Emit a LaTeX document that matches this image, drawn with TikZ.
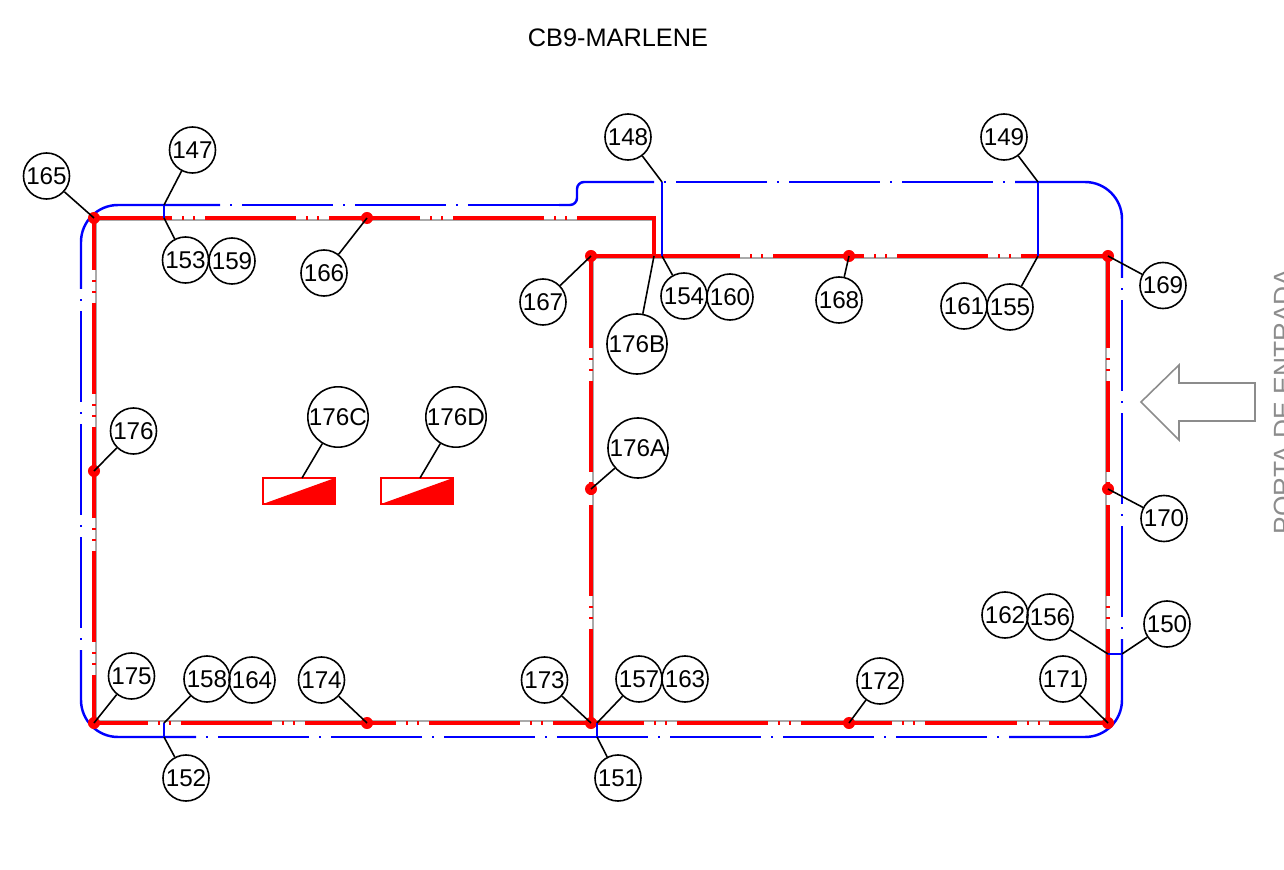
\documentclass[tikz,border=0pt]{standalone}
\usepackage{fontspec}
\setmainfont{Liberation Sans}
\usepackage{xcolor}
\definecolor{wallred}{RGB}{255,0,0}
\definecolor{wallgray}{RGB}{170,170,170}
\definecolor{fenceblue}{RGB}{0,0,255}
\definecolor{arrowgray}{RGB}{140,140,140}
\tikzset{
    tag/.style={draw, circle, line width=0.45pt, minimum size=0.46cm, inner sep=0pt, font=\fontsize{6.9}{8}\selectfont},
    bigtag/.style={tag, minimum size=0.6cm},
    joint/.style={circle, fill=wallred, minimum size=0.12cm, inner sep=0pt},
    leader/.style={line width=0.45pt},
    wallsolid/.style={draw=wallred, line width=0.9pt, line join=miter},
    walldash/.style={wallsolid, dash pattern=on 0cm off 0.1cm on 0.02cm off 0.09cm on 0.02cm off 0.1cm on 0.91cm off 0cm},
    wallback/.style={draw=wallgray, line width=0.5pt},
    fencesolid/.style={draw=fenceblue, line width=0.7pt},
    fencedash/.style={fencesolid, dash pattern=on 0cm off 0.1cm on 0.02cm off 0.1cm on 0.91cm off 0cm},
}
\begin{document}
\begin{tikzpicture}[x=0.01cm, y=-0.01cm]
    \clip (0,0) rectangle (1284,870);

    % Title
    \node[font=\fontsize{7.2}{9}\selectfont] (title) at (618,38) {CB9-MARLENE};

    % Wall underlay
    \draw[wallback] (96,220) -- (654,220);
    \draw[wallback] (592,258) -- (1107,258);
    \draw[wallback] (96,218) -- (96,722);
    \draw[wallback] (593,257) -- (593,722);
    \draw[wallback] (1106,257) -- (1106,722);
    \draw[wallback] (94,721) -- (1108,721);

    % Walls
    \draw[wallsolid] (94,218) -- (172,218);
    \draw[walldash] (172,218) -- (577,218);
    \draw[wallsolid] (577,218) -- (654,218) -- (654,256);
    \draw[wallsolid] (591,256) -- (740,256);
    \draw[walldash] (740,256) -- (1021,256);
    \draw[wallsolid] (1021,256) -- (1108,256);
    \draw[wallsolid] (1108,256) -- (1108,348);
    \draw[walldash] (1108,348) -- (1108,629);
    \draw[wallsolid] (1108,629) -- (1108,723);
    \draw[wallsolid] (591,256) -- (591,348);
    \draw[walldash] (591,348) -- (591,629);
    \draw[wallsolid] (591,629) -- (591,723);
    \draw[wallsolid] (94,723) -- (148,723);
    \draw[walldash] (148,723) -- (1049,723);
    \draw[wallsolid] (1049,723) -- (1108,723);
    \draw[wallsolid] (94,723) -- (94,675);
    \draw[walldash] (94,675) -- (94,270);
    \draw[wallsolid] (94,270) -- (94,218);

    % Fence
    \draw[fencesolid, rounded corners=0.37cm] (81,289) -- (81,205) -- (220,205);
    \draw[fencedash] (220,205) -- (559,205);
    \draw[fencesolid, rounded corners=0.07cm] (559,205) -- (577,205) -- (577,182) -- (654,182);
    \draw[fencedash] (654,182) -- (1015,182);
    \draw[fencesolid, rounded corners=0.37cm] (1015,182) -- (1122,182) -- (1122,278);
    \draw[fencedash] (1122,278) -- (1122,639);
    \draw[fencesolid, rounded corners=0.37cm] (1122,639) -- (1122,737) -- (1009,737);
    \draw[fencedash] (1009,737) -- (196,737);
    \draw[fencesolid, rounded corners=0.37cm] (196,737) -- (81,737) -- (81,650);
    \draw[fencedash] (81,650) -- (81,289);

    % Wall joints
    \node[joint] (J165) at (94,218) {};
    \node[joint] (J166) at (367,218) {};
    \node[joint] (J167) at (591,256) {};
    \node[joint] (J168) at (849,256) {};
    \node[joint] (J169) at (1108,256) {};
    \node[joint] (J170) at (1108,489) {};
    \node[joint] (J171) at (1108,723) {};
    \node[joint] (J172) at (849,723) {};
    \node[joint] (J173) at (591,723) {};
    \node[joint] (J174) at (367,723) {};
    \node[joint] (J175) at (94,723) {};
    \node[joint] (J176) at (94,471) {};
    \node[joint] (J176A) at (591,489) {};

    % Free leader ends
    \coordinate (C147) at (164,205);
    \coordinate (C153) at (164,218);
    \coordinate (C148) at (662,182);
    \coordinate (C154) at (662,256);
    \coordinate (C149) at (1038,182);
    \coordinate (C155) at (1038,256);
    \coordinate (C150) at (1122,654);
    \coordinate (C156) at (1108,654);
    \coordinate (C151) at (597,737);
    \coordinate (C157) at (597,723);
    \coordinate (C152) at (164,737);
    \coordinate (C158) at (164,723);
    \coordinate (C176B) at (654,256);
    \coordinate (C176C) at (302,478);
    \coordinate (C176D) at (420,478);

    % Fence links
    \draw[fencesolid] (C147) -- (C153);
    \draw[fencesolid] (C148) -- (C154);
    \draw[fencesolid] (C149) -- (C155);
    \draw[fencesolid] (C150) -- (C156);
    \draw[fencesolid] (C151) -- (C157);
    \draw[fencesolid] (C152) -- (C158);

    % Panels
    \draw[wallsolid, line width=0.5pt] (263,478) rectangle (335,504);
    \fill[wallred] (263,504) -- (335,478) -- (335,504) -- cycle;
    \draw[wallsolid, line width=0.5pt] (381,478) rectangle (453,504);
    \fill[wallred] (381,504) -- (453,478) -- (453,504) -- cycle;

    % Tags
    \node[tag] (T147) at (192.5,150) {147};
    \node[tag] (T148) at (628,137) {148};
    \node[tag] (T149) at (1004,137) {149};
    \node[tag] (T150) at (1167,624) {150};
    \node[tag] (T151) at (618,778) {151};
    \node[tag] (T152) at (186,778) {152};
    \node[tag] (T153) at (185.5,260) {153};
    \node[tag] (T154) at (684,296) {154};
    \node[tag] (T155) at (1010,307) {155};
    \node[tag] (T156) at (1050,617) {156};
    \node[tag] (T157) at (639,679) {157};
    \node[tag] (T158) at (207,679) {158};
    \node[tag] (T159) at (232,261) {159};
    \node[tag] (T160) at (730,297) {160};
    \node[tag] (T161) at (964,306) {161};
    \node[tag] (T162) at (1005,615) {162};
    \node[tag] (T163) at (685,679) {163};
    \node[tag] (T164) at (252,680) {164};
    \node[tag] (T165) at (46.5,176) {165};
    \node[tag] (T166) at (324,273) {166};
    \node[tag] (T167) at (543,302) {167};
    \node[tag] (T168) at (839,300) {168};
    \node[tag] (T169) at (1163,285.5) {169};
    \node[tag] (T170) at (1164,518.5) {170};
    \node[tag] (T171) at (1063,679) {171};
    \node[tag] (T172) at (880,681) {172};
    \node[tag] (T173) at (544.5,680) {173};
    \node[tag] (T174) at (321.5,680) {174};
    \node[tag] (T175) at (131.5,676) {175};
    \node[tag] (T176) at (133.5,431) {176};
    \node[bigtag] (T176A) at (638,448) {176A};
    \node[bigtag] (T176B) at (637,344) {176B};
    \node[bigtag] (T176C) at (338,417) {176C};
    \node[bigtag] (T176D) at (456,417) {176D};

    % Leaders
    \draw[leader] (T147) -- (C147);
    \draw[leader] (T148) -- (C148);
    \draw[leader] (T149) -- (C149);
    \draw[leader] (T150) -- (C150);
    \draw[leader] (T151) -- (C151);
    \draw[leader] (T152) -- (C152);
    \draw[leader] (T153) -- (C153);
    \draw[leader] (T154) -- (C154);
    \draw[leader] (T155) -- (C155);
    \draw[leader] (T156) -- (C156);
    \draw[leader] (T157) -- (C157);
    \draw[leader] (T158) -- (C158);
    \draw[leader] (T165) -- (J165.center);
    \draw[leader] (T166) -- (J166.center);
    \draw[leader] (T167) -- (J167.center);
    \draw[leader] (T168) -- (J168.center);
    \draw[leader] (T169) -- (J169.center);
    \draw[leader] (T170) -- (J170.center);
    \draw[leader] (T171) -- (J171.center);
    \draw[leader] (T172) -- (J172.center);
    \draw[leader] (T173) -- (J173.center);
    \draw[leader] (T174) -- (J174.center);
    \draw[leader] (T175) -- (J175.center);
    \draw[leader] (T176) -- (J176.center);
    \draw[leader] (T176A) -- (J176A.center);
    \draw[leader] (T176B) -- (C176B);
    \draw[leader] (T176C) -- (C176C);
    \draw[leader] (T176D) -- (C176D);

    % Entrance arrow
    \draw[draw=arrowgray, line width=0.45pt] (1141,402) -- (1179,365) -- (1179,383) -- (1255,383) -- (1255,421) -- (1179,421) -- (1179,440) -- cycle;
    \node[text=arrowgray, rotate=90, anchor=west, inner sep=0pt, font=\fontsize{7.5}{9}\selectfont] (door) at (1283,535) {PORTA DE ENTRADA};
\end{tikzpicture}
\end{document}
